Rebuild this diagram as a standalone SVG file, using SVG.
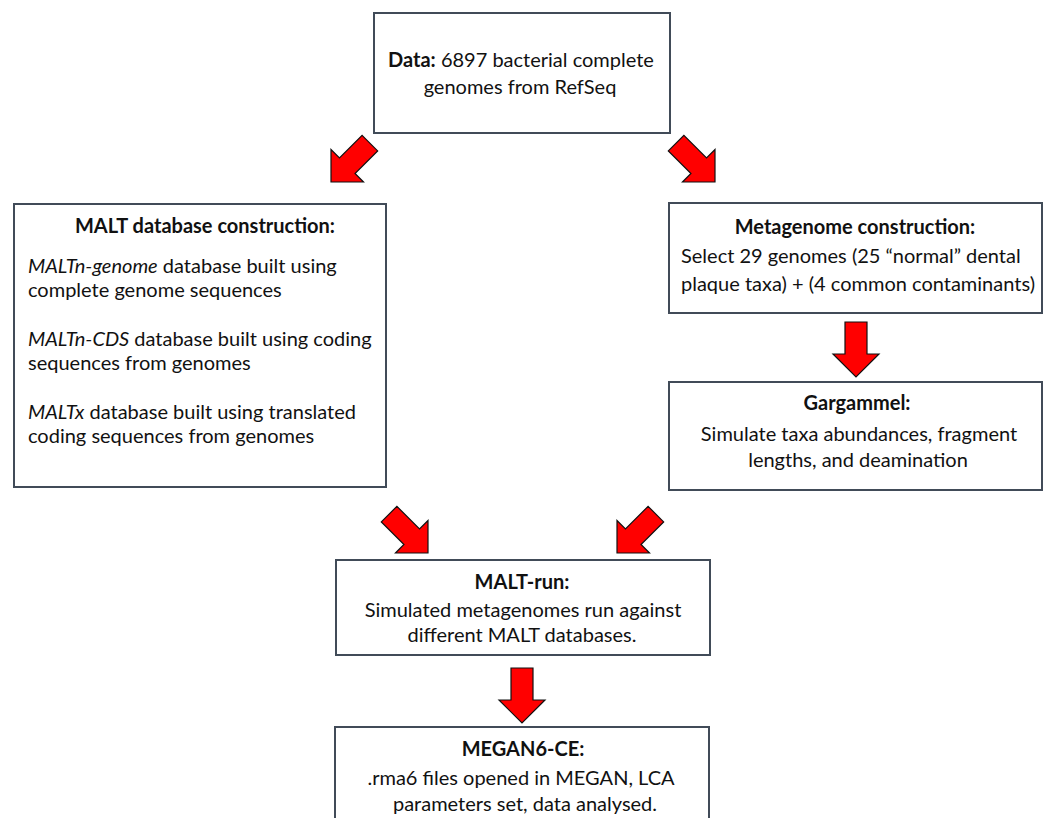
<svg xmlns="http://www.w3.org/2000/svg" width="1050" height="818" viewBox="0 0 1050 818">
<style>
.box{fill:#ffffff;stroke:#414b58;stroke-width:2}
.t{font-family:Lato,"Liberation Sans",sans-serif;font-size:20px;fill:#111111}
.c{text-anchor:middle}
.b{font-weight:bold}
.i{font-style:italic}
.arr{fill:#ff0000;stroke:#111111;stroke-width:1.2;stroke-linejoin:miter}
</style>
<defs>
<path id="ar" d="M -11,-55 L 11,-55 L 11,-23 L 23,-23 L 0,0 L -23,-23 L -11,-23 Z"/>
</defs>
<rect width="1050" height="818" fill="#ffffff"/>
<g id="connectors">
<use href="#ar" class="arr" transform="translate(331,182) rotate(45)"/>
<use href="#ar" class="arr" transform="translate(715,182) rotate(-45)"/>
<use href="#ar" class="arr" transform="translate(856,377)"/>
<use href="#ar" class="arr" transform="translate(428,553) rotate(-45)"/>
<use href="#ar" class="arr" transform="translate(617,553) rotate(45)"/>
<use href="#ar" class="arr" transform="translate(522,723)"/>
</g>
<g id="data">
<rect class="box" x="374" y="13" width="296" height="120"/>
<text class="t c" x="521" y="67"><tspan class="b">Data:</tspan> 6897 bacterial complete</text>
<text class="t c" x="520" y="94">genomes from RefSeq</text>
</g>
<g id="malt-db">
<rect class="box" x="14" y="204" width="372" height="283"/>
<text class="t c b" x="205" y="233">MALT database construction:</text>
<text class="t" x="28" y="273"><tspan class="i">MALTn-genome</tspan> database built using</text>
<text class="t" x="28" y="297">complete genome sequences</text>
<text class="t" x="28" y="346"><tspan class="i">MALTn-CDS</tspan> database built using coding</text>
<text class="t" x="28" y="370">sequences from genomes</text>
<text class="t" x="28" y="419"><tspan class="i">MALTx</tspan> database built using translated</text>
<text class="t" x="28" y="443">coding sequences from genomes</text>
</g>
<g id="metagenome">
<rect class="box" x="669" y="203" width="373" height="110"/>
<text class="t c b" x="855" y="234">Metagenome construction:</text>
<text class="t" x="681" y="263">Select 29 genomes (25 “normal” dental</text>
<text class="t" x="681" y="291">plaque taxa) + (4 common contaminants)</text>
</g>
<g id="gargammel">
<rect class="box" x="669" y="382" width="373" height="108"/>
<text class="t c b" x="857" y="410">Gargammel:</text>
<text class="t c" x="859" y="441">Simulate taxa abundances, fragment</text>
<text class="t c" x="858" y="467">lengths, and deamination</text>
</g>
<g id="malt-run">
<rect class="box" x="336" y="560" width="374" height="95"/>
<text class="t c b" x="522" y="589">MALT-run:</text>
<text class="t c" x="523" y="617">Simulated metagenomes run against</text>
<text class="t c" x="522" y="642">different MALT databases.</text>
</g>
<g id="megan">
<rect class="box" x="335" y="727" width="374" height="100"/>
<text class="t c b" x="523" y="756">MEGAN6-CE:</text>
<text class="t c" x="521" y="785">.rma6 files opened in MEGAN, LCA</text>
<text class="t c" x="525" y="811">parameters set, data analysed.</text>
</g>
</svg>
